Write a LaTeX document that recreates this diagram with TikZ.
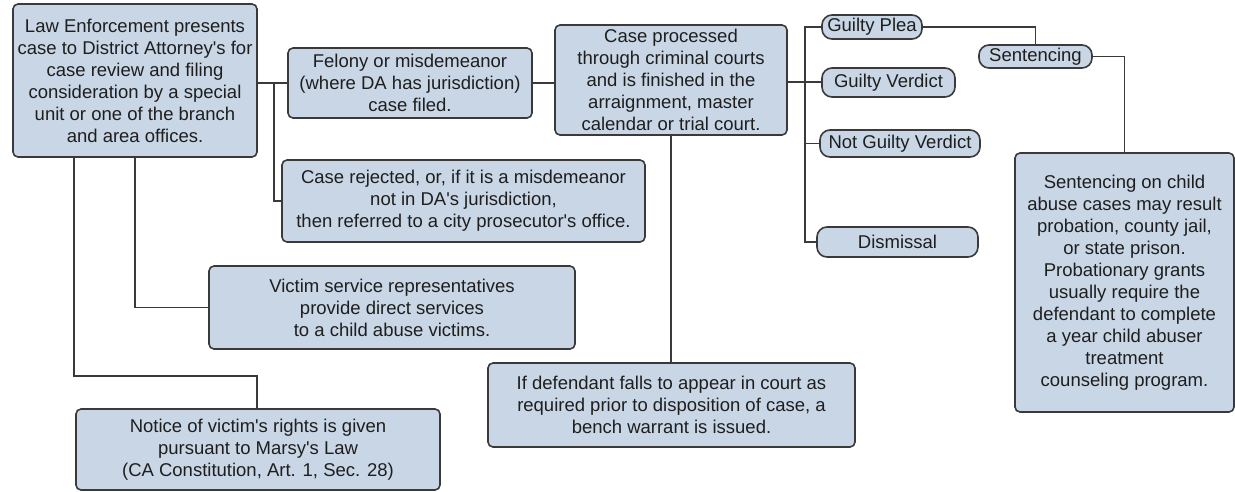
\documentclass[tikz,border=0pt]{standalone}
\usepackage{fontspec}
\setmainfont{Liberation Sans}
\usepackage{tikz}

\definecolor{boxfill}{RGB}{201,214,230}
\definecolor{boxline}{RGB}{58,58,58}
\definecolor{inkgray}{RGB}{30,30,30}

\tikzset{
  stepbox/.style={draw=boxline, fill=boxfill, line width=1.6pt, rounded corners=5pt,
    align=center, inner sep=0pt, text=inkgray,
    font=\fontsize{18.5}{22}\selectfont},
  pill/.style={stepbox, rounded corners=10pt},
  link/.style={draw=boxline, line width=1.6pt}
}
\newcommand{\apos}{\textquotesingle}

\begin{document}
\begin{tikzpicture}[x=1pt,y=-1pt]
\useasboundingbox (0,0) rectangle (1235,491);

% main column
\node[stepbox, minimum width=244pt, minimum height=153pt] (law) at (135,80.5)
  {Law Enforcement presents\\case to District Attorney\apos s for\\case review and filing\\consideration by a special\\unit or one of the branch\\and area offices.};
\node[stepbox, minimum width=244pt, minimum height=70pt] (filed) at (410,83)
  {Felony or misdemeanor\\(where DA has jurisdiction)\\case filed.};
\node[stepbox, minimum width=363pt, minimum height=82pt] (reject) at (463.5,201)
  {Case rejected, or, if it is a misdemeanor\\not in DA\apos s jurisdiction,\\then referred to a city prosecutor\apos s office.};
\node[stepbox, minimum width=232pt, minimum height=110pt] (court) at (671,80)
  {Case processed\\through criminal courts\\and is finished in the\\arraignment, master\\calendar or trial court.};
\node[stepbox, minimum width=367pt, minimum height=84pt] (warrant) at (671.5,405)
  {If defendant falls to appear in court as\\required prior to disposition of case, a\\bench warrant is issued.};
\node[stepbox, minimum width=366pt, minimum height=83pt] (victim) at (392,307.5)
  {Victim service representatives\\provide direct services\\to a child abuse victims.};
\node[stepbox, minimum width=364pt, minimum height=81pt] (notice) at (258,449.5)
  {Notice of victim\apos s rights is given\\pursuant to Marsy\apos s Law\\(CA Constitution, Art. 1, Sec. 28)};

% outcomes
\node[pill, minimum width=100pt, minimum height=24pt] (plea) at (872,27) {Guilty Plea};
\node[pill, minimum width=133pt, minimum height=29pt] (verdict) at (888.5,82.5) {Guilty Verdict};
\node[pill, minimum width=160pt, minimum height=27pt] (notguilty) at (900,143.5) {Not Guilty Verdict};
\node[pill, minimum width=161pt, minimum height=30pt] (dismiss) at (897.5,242) {Dismissal};
\node[pill, minimum width=113pt, minimum height=23pt] (sentence) at (1035.5,56.5) {Sentencing};
\node[stepbox, minimum width=219pt, minimum height=259pt] (result) at (1124.5,282.5)
  {Sentencing on child\\abuse cases may result\\probation, county jail,\\or state prison.\\Probationary grants\\usually require the\\defendant to complete\\a year child abuser\\treatment\\counseling program.};

% connectors
\coordinate (fork) at (274,83);
\coordinate (trunk) at (805,82);
\coordinate (bend) at (257,376);

\draw[link] (law.east |- fork) -- (filed.west |- fork);
\draw[link] (fork) |- (reject.west);
\draw[link] (filed.east |- fork) -- (court.west |- fork);
\draw[link] (court.south) -- (court.south |- warrant.north);
\draw[link] (law.south -| 135,0) |- (victim.west);
\draw[link] (law.south -| 74,0) |- (bend) -- (bend |- notice.north);

\draw[link] (court.east |- trunk) -- (verdict.west |- trunk);
\draw[link] (plea.west) -| (trunk) |- (notguilty.west);
\draw[link] (trunk) |- (dismiss.west);
\draw[link] (plea.east) -| (sentence.north);
\draw[link] (sentence.east) -| (result.north);
\end{tikzpicture}
\end{document}
